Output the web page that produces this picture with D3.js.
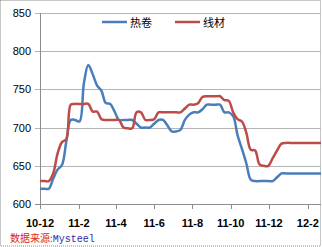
<!DOCTYPE html>
<html><head><meta charset="utf-8">
<script src="https://cdn.jsdelivr.net/npm/d3@7"></script>
<style>body{margin:0;background:#fff}svg{display:block}</style>
</head><body>
<script>
const startDate = "2010-12-01";
const seriesNames = ["热卷", "线材"];
const hotRolled = [620,620,620,633,645,651,682,710,710,708,758,782,770,755,748,732,731,721,710,710,710,710,705,700,700,700,705,710,710,703,695,695,697,710,717,720,720,724,730,730,730,730,720,720,715,690,672,653,632,630,630,630,630,630,635,640,640,640,640,640,640,640,640,640,640];
const wireRod = [630,630,630,640,666,681,685,730,731,731,731,731,721,721,711,710,710,710,710,700,699,699,720,720,710,710,711,720,720,720,720,720,720,725,730,730,732,740,741,741,741,741,736,735,720,711,708,693,671,670,652,650,650,660,670,679,680,680,680,680,680,680,680,680,680];
const yTicks = [600,650,700,750,800,850];
const xTickMonths = ["2010-12-01","2011-02-01","2011-04-01","2011-06-01","2011-08-01","2011-10-01","2011-12-01","2012-02-01"];

const W = 322, H = 247;
const m = {l:40, r:321, t:13, b:204};
const svg = d3.select("body").append("svg").attr("width", W).attr("height", H);
const parse = d3.utcParse("%Y-%m-%d");
const d0 = parse(startDate);
const dates = hotRolled.map((_, i) => d3.utcDay.offset(d0, 7 * i));

const x = d3.scaleUtc().domain([dates[0], dates[dates.length - 1]]).range([m.l, m.r]);
const y = d3.scaleLinear().domain([600, 850]).range([m.b, m.t]);

// border
svg.append("rect").attr("x",0.5).attr("y",0.5).attr("width",W-2).attr("height",H-1.5)
  .attr("fill","none").attr("stroke","#8c8c8c").attr("stroke-dasharray","1,1");

// gridlines + y ticks
const gy = svg.append("g");
yTicks.forEach(v => {
  gy.append("line").attr("x1", m.l - 5).attr("x2", m.r).attr("y1", Math.round(y(v)) + 0.5).attr("y2", Math.round(y(v)) + 0.5)
    .attr("stroke", v === 600 ? "#8c8c8c" : "#b4b4b4").attr("stroke-width", 1);
  gy.append("text").attr("x", 31).attr("y", y(v) + 4).attr("text-anchor", "end")
    .attr("font-family", "Liberation Sans, Arial, sans-serif").attr("font-size", 11).attr("fill", "#000").text(v);
});
// y axis line
svg.append("line").attr("x1", m.l + 0.5).attr("x2", m.l + 0.5).attr("y1", m.t).attr("y2", m.b + 1).attr("stroke", "#8c8c8c");

// x ticks
const fmt = d3.utcFormat("%y-%-m");
xTickMonths.map(parse).forEach(d => {
  const xx = Math.round(x(d)) + 0.5;
  svg.append("line").attr("x1", xx).attr("x2", xx).attr("y1", m.b).attr("y2", m.b + 5).attr("stroke", "#8c8c8c");
  svg.append("text").attr("x", x(d)).attr("y", 227).attr("text-anchor", "middle")
    .attr("font-family", "Liberation Sans, Arial, sans-serif").attr("font-size", 11).attr("font-weight", "bold").attr("fill", "#000").text(fmt(d));
});

const line = d3.line().x((d, i) => x(dates[i])).y(d => y(d)).curve(d3.curveCatmullRom.alpha(0.5));
const colors = ["#4a7ebb", "#be4b48"];
[hotRolled, wireRod].forEach((s, k) => {
  svg.append("path").datum(s).attr("d", line).attr("fill", "none")
    .attr("stroke", colors[k]).attr("stroke-width", 2.5).attr("stroke-linejoin", "round");
});

// legend
const legX = [102, 175];
seriesNames.forEach((n, k) => {
  svg.append("line").attr("x1", legX[k]).attr("x2", legX[k] + 25).attr("y1", 22).attr("y2", 22)
    .attr("stroke", colors[k]).attr("stroke-width", 2.5);
  svg.append("text").attr("x", legX[k] + 28).attr("y", 26.5)
    .attr("font-family", "Noto Sans CJK SC, sans-serif").attr("font-size", 11).attr("fill", "#000").text(n);
});

// source
const src = svg.append("text").attr("x", 10).attr("y", 242).attr("font-size", 10);
src.append("tspan").attr("font-family", "Noto Sans CJK SC, sans-serif").attr("fill", "#e0201c").text("数据来源:");
src.append("tspan").attr("font-family", "Liberation Mono, Courier New, monospace").attr("fill", "#2c2ca8").text("Mysteel");
</script>
</body></html>
